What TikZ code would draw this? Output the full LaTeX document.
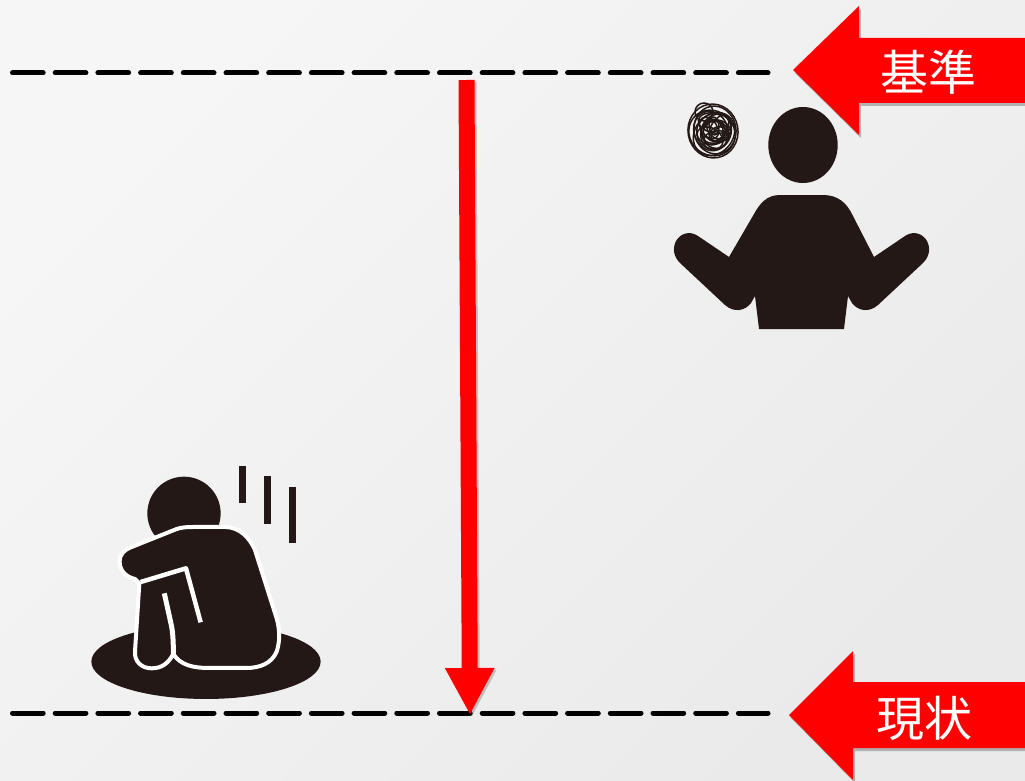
\documentclass[tikz,border=0pt]{standalone}
\usepackage{fontspec}
\usepackage{xcolor}
\usepackage{tikz}
\usetikzlibrary{shadows,arrows.meta}
\newfontfamily\cjk{Noto Sans CJK JP}
\definecolor{figink}{HTML}{231815}
\definecolor{bgtop}{HTML}{F6F6F6}
\definecolor{bgbottom}{HTML}{EAEAEA}
\tikzset{
  refline/.style={black, line width=5pt, line cap=round, dash pattern=on 30.7pt off 12pt},
  blockarrow/.style={fill=red, drop shadow={shadow xshift=2pt, shadow yshift=-3pt, opacity=0.25, fill=black}},
  arrowlabel/.style={text=white, inner sep=0pt, font=\cjk\fontsize{48}{48}\selectfont},
  gaparrow/.style={line width=16pt, -{Triangle[length=47pt, width=46pt]}},
  whitecut/.style={draw=white, line join=round},
  scribble/.style={draw=figink, line width=1.5pt}
}

\begin{document}
\begin{tikzpicture}[x=1pt, y=-1pt]
  \useasboundingbox (0,0) rectangle (1025,781);
  \shade[shading=axis, bottom color=bgbottom, top color=bgtop, shading angle=45] (0,0) rectangle (1025,781);

  % Reference lines
  \coordinate (basestart) at (12.5,73);
  \coordinate (baseend) at (768,73);
  \coordinate (nowstart) at (12.5,713);
  \coordinate (nowend) at (768,713);
  \draw[refline] (basestart) -- (baseend);
  \draw[refline] (nowstart) -- (nowend);

  % Gap arrow
  \coordinate (gaptop) at (466.5,80);
  \coordinate (gaptip) at (470,715);
  \draw[gaparrow, black, opacity=0.2] ([shift={(2,2)}]gaptop) -- ([shift={(2,2)}]gaptip);
  \draw[gaparrow, red] (gaptop) -- (gaptip);

  % Label arrows
  \path[blockarrow] (793,70) -- (859,6) -- (859,38) -- (1025,38) -- (1025,103) -- (859,103) -- (859,135) -- cycle;
  \node[arrowlabel] (base) at (928,72) {基準};
  \path[blockarrow] (789,715) -- (853,651) -- (853,682) -- (1025,682) -- (1025,748) -- (853,748) -- (853,780) -- cycle;
  \node[arrowlabel] (now) at (924,718) {現状};

  % Standing figure
  \fill[figink] (803,145) ellipse [x radius=34.7, y radius=38];
  \fill[figink] (780,195) -- (823,195) .. controls (838,195) and (847,203) .. (853,216) -- (874,257) -- (905,236)
    .. controls (914,230) and (923,234) .. (927,241) .. controls (931,249) and (929,257) .. (923,263) -- (878,305)
    .. controls (869,313) and (858,311) .. (852,303) -- (848,296) -- (844,329) -- (759,329) -- (755,296) -- (751,303)
    .. controls (745,311) and (734,313) .. (725,305) -- (680,263) .. controls (674,257) and (672,249) .. (676,241)
    .. controls (680,234) and (689,230) .. (698,236) -- (729,257) -- (754,214) .. controls (760,203) and (767,195) .. (780,195) -- cycle;

  % Scribble
  \foreach \dx/\dy/\rx/\ry/\rot in {0/0/25/27/10, -1/2/22/24/50, 2/-1/24/21/100, 1/3/19/23/140, -2/0/17/20/20,
      3/1/18/15/70, 1/-2/15/18/120, 2/3/13/15/30, 4/0/11/14/80, 0/2/10/12/160, 3/-2/8/11/40, 5/3/7/9/110,
      -3/7/14/10/150, 2/-8/17/10/170, 6/-3/14/8/60, 3/6/12/6/10, 6/2/5/10/135, 1/-5/9/5/95, -4/-3/8/12/35}
    \draw[scribble] (713+\dx,131+\dy) ellipse [x radius=\rx, y radius=\ry, rotate=\rot];
  \draw[scribble] (704,112) circle [radius=9];

  % Crouching figure
  \begin{scope}[shift={(80,455)}, x=0.3333pt, y=-0.3333pt]
    \fill[figink] (378,620) ellipse [x radius=344, y radius=112];
    \fill[figink] (312,175) circle [radius=110];
    \foreach \xa/\ya/\xb/\yb in {476/32/498/143, 551/64/574/207, 627/95/649/265}
      \fill[figink] (\xa,\ya) rectangle (\xb,\yb);
    \filldraw[whitecut, fill=figink, line width=4pt] (119,320) .. controls (119,295) and (135,285) .. (150,278) -- (290,222)
      .. controls (305,217) and (320,216) .. (340,216) -- (435,216) .. controls (480,216) and (510,250) .. (525,285)
      -- (590,490) .. controls (600,525) and (600,560) .. (590,590) .. controls (575,625) and (540,639) .. (500,639)
      -- (385,639) .. controls (340,639) and (300,630) .. (280,597) .. controls (265,625) and (245,640) .. (215,640)
      .. controls (185,640) and (163,620) .. (165,590) -- (178,385) -- (165,372) .. controls (135,365) and (119,345) .. (119,320) -- cycle;
    \draw[whitecut, line width=4.5pt] (182,381) -- (318,340) -- (362,502);
    \draw[whitecut, line width=5pt] (253,415) -- (275,515) .. controls (280,545) and (280,570) .. (280,597);
  \end{scope}
\end{tikzpicture}
\end{document}
